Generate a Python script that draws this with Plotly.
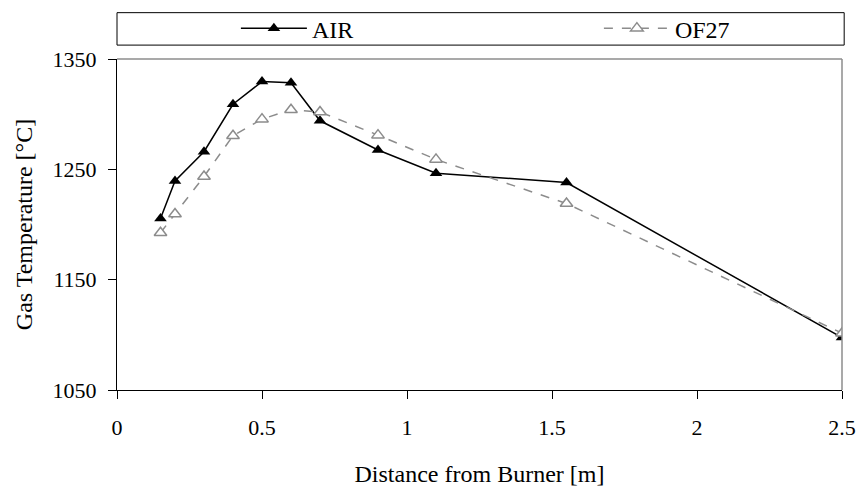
import plotly.graph_objects as go

distance = [0.15, 0.2, 0.3, 0.4, 0.5, 0.6, 0.7, 0.9, 1.1, 1.55, 2.5]
air_temp = [1205.5, 1239.5, 1266, 1309, 1329.5, 1328.5, 1294, 1267.5, 1246.5, 1238, 1097.5]
of27_temp = [1192.5, 1209.5, 1243.5, 1280.5, 1295.5, 1304, 1302, 1281, 1259, 1219, 1101.5]
x_ticks = [0, 0.5, 1, 1.5, 2, 2.5]
y_ticks = [1050, 1150, 1250, 1350]

FONT = "Liberation Serif"

fig = go.Figure()
fig.add_trace(go.Scatter(
    x=distance, y=air_temp, name="AIR", mode="lines+markers",
    line=dict(color="black", width=1.5),
    marker=dict(symbol="triangle-up", size=11, color="black"),
))
fig.add_trace(go.Scatter(
    x=distance, y=of27_temp, name="OF27", mode="lines+markers",
    line=dict(color="#8c8c8c", width=1.5, dash="dash"),
    marker=dict(symbol="triangle-up", size=11, color="white",
                line=dict(color="#8c8c8c", width=1.5)),
))

fig.update_layout(
    width=860, height=489,
    margin=dict(l=117, r=18, t=59, b=99, autoexpand=False),
    paper_bgcolor="white", plot_bgcolor="white",
    font=dict(family=FONT, size=22, color="black"),
    showlegend=True,
    legend=dict(orientation="h", x=0.164, xanchor="left", y=1.092, yanchor="middle",
                entrywidth=282, entrywidthmode="pixels",
                font=dict(family=FONT, size=24), bgcolor="rgba(0,0,0,0)",
                itemwidth=66),
    shapes=[
        dict(type="rect", xref="paper", yref="paper", x0=0, x1=1.003, y0=1.042, y1=1.14,
             line=dict(color="black", width=1), fillcolor="rgba(0,0,0,0)"),
        dict(type="line", xref="paper", yref="paper", x0=0, x1=1, y0=1, y1=1,
             line=dict(color="#8c8c8c", width=1.5)),
        dict(type="line", xref="paper", yref="paper", x0=1, x1=1, y0=0, y1=1,
             line=dict(color="#8c8c8c", width=1.5)),
    ],
)
fig.update_xaxes(
    range=[0, 2.5], tickvals=x_ticks, ticktext=[f"{v:g}" for v in x_ticks],
    showgrid=False, zeroline=False, showline=True, linecolor="black", linewidth=1,
    ticks="outside", ticklen=8, tickcolor="black", ticklabelstandoff=10,
    tickfont=dict(family=FONT, size=22),
    title=dict(text="Distance from Burner [m]", standoff=25, font=dict(family=FONT, size=24)),
)
fig.update_yaxes(
    range=[1050, 1350], tickvals=y_ticks,
    showgrid=False, zeroline=False, showline=True, linecolor="black", linewidth=1,
    ticks="outside", ticklen=8, tickcolor="black", ticklabelstandoff=7,
    tickfont=dict(family=FONT, size=22),
    title=dict(text="Gas Temperature [°C]", standoff=13, font=dict(family=FONT, size=24)),
)

fig.write_html("out.html")
